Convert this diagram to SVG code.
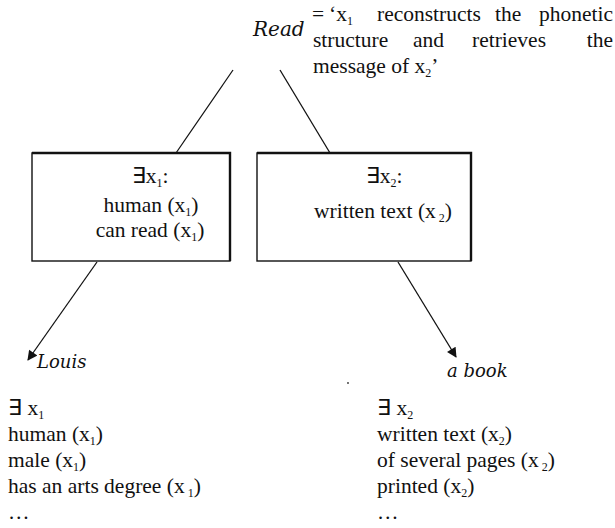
<svg xmlns="http://www.w3.org/2000/svg" width="615" height="528" viewBox="0 0 615 528">
<defs>
<style>
text{font-family:"Liberation Serif","Times New Roman",serif;font-size:21.5px;fill:#111}
.it{font-family:"DejaVu Serif","Liberation Serif",serif;font-style:italic;font-size:18px}
.sub{font-size:12px}
.box{fill:#fff;stroke:#111;stroke-width:1.4}
.edge{fill:none;stroke:#111;stroke-width:2.4}
.ln{stroke:#111;stroke-width:1.3;fill:none}
</style>
<marker id="ah" viewBox="0 0 10 10" refX="9" refY="5" markerWidth="11" markerHeight="10" markerUnits="userSpaceOnUse" orient="auto"><path d="M0,0 L10,5 L0,10 z" fill="#111"/></marker>
</defs>
<rect width="615" height="528" fill="#fff"/>
<g id="read">
<text class="it" x="253" y="36" style="font-size:20px">Read</text>
<text x="312" y="21">=</text>
<text x="329" y="21">‘x<tspan class="sub" dy="4">1</tspan></text>
<text x="377" y="21">reconstructs</text>
<text x="495" y="21">the</text>
<text x="613" y="21" text-anchor="end">phonetic</text>
<text x="313" y="47">structure</text>
<text x="413" y="47">and</text>
<text x="472" y="47">retrieves</text>
<text x="613" y="47" text-anchor="end">the</text>
<text x="313" y="73">message of x<tspan class="sub" dy="4">2</tspan><tspan dy="-4">’</tspan></text>
</g>
<g id="connectors">
<line class="ln" x1="233" y1="70" x2="176" y2="153"/>
<line class="ln" x1="280" y1="70" x2="330" y2="153"/>
<line class="ln" x1="97" y1="262" x2="28" y2="360" marker-end="url(#ah)"/>
<line class="ln" x1="398" y1="262" x2="456" y2="357" marker-end="url(#ah)"/>
</g>
<g id="box1">
<rect class="box" x="32" y="153" width="198" height="108"/>
<polyline class="edge" points="32,153 230,153 230,261"/>
<text x="150" y="183" text-anchor="middle">∃x<tspan class="sub" dy="4">1</tspan><tspan dy="-4">:</tspan></text>
<text x="151" y="212" text-anchor="middle">human (x<tspan class="sub" dy="4">1</tspan><tspan dy="-4">)</tspan></text>
<text x="150" y="237" text-anchor="middle">can read (x<tspan class="sub" dy="4">1</tspan><tspan dy="-4">)</tspan></text>
</g>
<g id="box2">
<rect class="box" x="257" y="153" width="214" height="108"/>
<polyline class="edge" points="257,153 471,153 471,261"/>
<text x="384" y="183" text-anchor="middle">∃x<tspan class="sub" dy="4">2</tspan><tspan dy="-4">:</tspan></text>
<text x="383" y="218" text-anchor="middle">written text (x<tspan class="sub" dy="4"> 2</tspan><tspan dy="-4">)</tspan></text>
</g>
<g id="louis">
<text class="it" x="37" y="368">Louis</text>
<text x="8" y="415">∃ x<tspan class="sub" dy="4">1</tspan></text>
<text x="8" y="441">human (x<tspan class="sub" dy="4">1</tspan><tspan dy="-4">)</tspan></text>
<text x="8" y="467">male (x<tspan class="sub" dy="4">1</tspan><tspan dy="-4">)</tspan></text>
<text x="8" y="493">has an arts degree (x<tspan class="sub" dy="4"> 1</tspan><tspan dy="-4">)</tspan></text>
<text x="8" y="519">…</text>
</g>
<g id="book">
<text class="it" x="447" y="377">a book</text>
<circle cx="348" cy="383" r="0.9" fill="#333"/>
<text x="377" y="415">∃ x<tspan class="sub" dy="4">2</tspan></text>
<text x="377" y="441">written text (x<tspan class="sub" dy="4">2</tspan><tspan dy="-4">)</tspan></text>
<text x="377" y="467">of several pages (x<tspan class="sub" dy="4"> 2</tspan><tspan dy="-4">)</tspan></text>
<text x="377" y="493">printed (x<tspan class="sub" dy="4">2</tspan><tspan dy="-4">)</tspan></text>
<text x="377" y="519">…</text>
</g>
</svg>
